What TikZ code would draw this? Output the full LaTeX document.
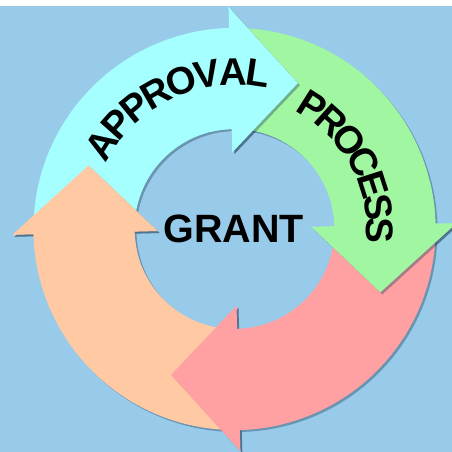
\documentclass[tikz,border=0pt]{standalone}
\usepackage{fontspec}
\setmainfont{Liberation Sans}
\usetikzlibrary{decorations.text}
\definecolor{bgblue}{RGB}{151,203,233}
\definecolor{cyanA}{RGB}{166,255,255}
\definecolor{greenA}{RGB}{161,246,161}
\definecolor{redA}{RGB}{255,160,163}
\definecolor{orangeA}{RGB}{255,201,163}
\definecolor{shadowc}{RGB}{45,75,100}
% full curved arrow; #1 = angle of the head's back edge, #2 = style
\newcommand\ArrowFull[2]{%
  \fill[#2] ({#1+86.5}:201) arc[start angle={#1+86.5}, end angle={#1}, radius=201]
    -- (#1:222) -- ({#1-25}:159) -- (#1:77) -- (#1:100)
    arc[start angle={#1}, end angle={#1+86.5}, radius=100] -- cycle;}
% head plus a short neck
\newcommand\ArrowHead[2]{%
  \fill[#2] ({#1+12}:201) arc[start angle={#1+12}, end angle={#1}, radius=201]
    -- (#1:222) -- ({#1-25}:159) -- (#1:77) -- (#1:100)
    arc[start angle={#1}, end angle={#1+12}, radius=100] -- cycle;}
\newcommand\HeadTri[2]{%
  \fill[#2] (#1:222) -- ({#1-25}:159) -- (#1:77) -- cycle;}
\begin{document}
\begin{tikzpicture}[x=1pt,y=1pt,
  shade/.style={fill=shadowc, fill opacity=.42},
  label/.style={font=\bfseries\fontsize{39.5}{41}\selectfont, inner sep=0pt}]
\useasboundingbox (0,0) rectangle (452,452);
\fill[white] (0,0) rectangle (452,452);
\fill[bgblue] (0,0) rectangle (452,446);
\begin{scope}
\clip (0,0) rectangle (452,446);
\begin{scope}[shift={(234.5,223)}]
  % shadows of whole arrows
  \begin{scope}[shift={(2,-2)}]
    \ArrowFull{91.5}{shade}
    \ArrowFull{1.5}{shade}
    \ArrowFull{-88.5}{shade}
    \ArrowFull{181.5}{shade}
  \end{scope}
  % arrow bodies
  \ArrowFull{91.5}{cyanA}
  \ArrowFull{1.5}{greenA}
  \ArrowFull{-88.5}{redA}
  \ArrowFull{181.5}{orangeA}
  % heads on top of the next tail
  \foreach \a/\c in {91.5/cyanA, 1.5/greenA, -88.5/redA, 181.5/orangeA}{
    \begin{scope}[shift={(2,-2)}]
      \HeadTri{\a}{shade}
    \end{scope}
    \ArrowHead{\a}{\c}
  }
  % curved labels
  \path[decorate, decoration={text along path,
      text={|\bfseries\fontsize{38.5}{40}\selectfont|APPROVAL},
      text align=center, raise=-19pt}]
    (170:163) arc[start angle=170, end angle=60, radius=163];
  \path[decorate, decoration={text along path,
      text={|\bfseries\fontsize{38.5}{40}\selectfont|PROCESS},
      text align=center, raise=-28pt}]
    (75:160) arc[start angle=75, end angle=-18, radius=160];
  \node[label] (grant) at (-1,0) {GRANT};
\end{scope}
\end{scope}
\end{tikzpicture}
\end{document}
